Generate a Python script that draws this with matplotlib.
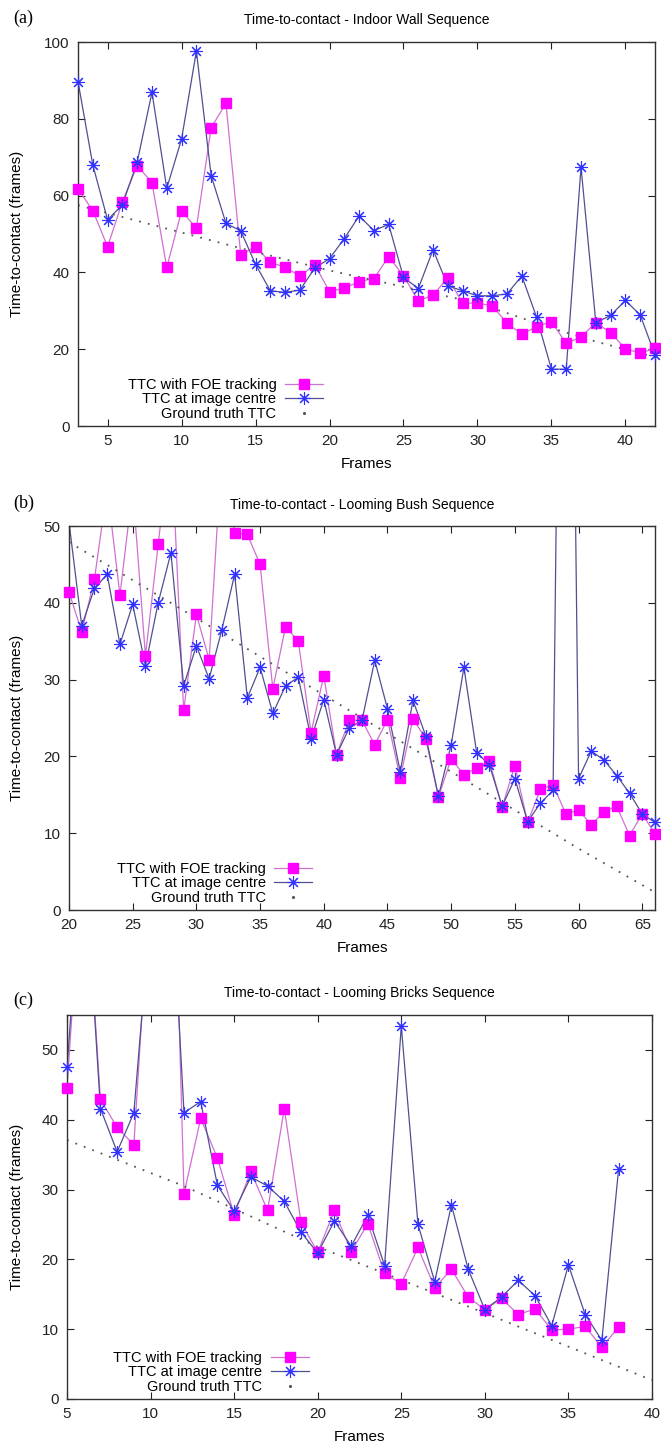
""" Time-to-contact plots for three sequences """
import matplotlib
matplotlib.use('Agg')
import matplotlib.pyplot as plt
from matplotlib.lines import Line2D
import numpy as np

plt.rcParams['font.family'] = ['Liberation Sans', 'DejaVu Sans']

# (a) Indoor wall sequence
frames_a = list(range(3, 43))
foe_a = [61.7, 56.1, 46.7, 58.4, 67.8, 63.4, 41.3, 56.0, 51.5, 77.7,
         84.0, 44.6, 46.7, 42.6, 41.4, 39.0, 42.0, 35.0, 35.9, 37.6,
         38.4, 44.1, 39.1, 32.6, 34.1, 38.6, 32.0, 32.0, 31.3, 26.8,
         23.9, 25.9, 27.2, 21.5, 23.2, 26.9, 24.3, 20.1, 19.0, 20.2]
centre_a = [89.7, 68.0, 53.7, 57.6, 68.7, 86.9, 61.9, 74.7, 97.6, 65.2,
            52.8, 50.8, 42.1, 35.2, 34.8, 35.4, 41.1, 43.6, 48.8, 54.7,
            50.9, 52.5, 38.7, 35.8, 45.9, 36.5, 35.2, 33.9, 33.9, 34.4,
            39.1, 28.3, 14.8, 14.8, 67.4, 26.9, 28.8, 32.7, 28.9, 18.5]
truth_frames_a = [3, 14, 20, 30, 35, 38, 42]
truth_a = [57.5, 46.3, 40.5, 32.0, 25.5, 22.0, 17.9]

# (b) Looming bush sequence
frames_b = list(range(20, 67))
foe_b = [41.4, 36.2, 43.1, 55.0, 41.0, 55.0, 33.1, 47.6, 62.0, 26.0,
         38.5, 32.6, 60.0, 49.1, 48.9, 45.0, 28.8, 36.9, 35.0, 23.1,
         30.5, 20.2, 24.7, 24.7, 21.5, 24.8, 17.2, 24.9, 22.3, 14.7,
         19.7, 17.6, 18.5, 19.4, 13.4, 18.8, 11.4, 15.7, 16.3, 12.5,
         13.0, 11.1, 12.8, 13.5, 9.7, 12.5, 9.9]
centre_b = [50.5, 37.0, 41.9, 43.7, 34.6, 39.8, 31.8, 40.0, 46.5, 29.2,
            34.4, 30.1, 36.5, 43.7, 27.6, 31.6, 25.6, 29.2, 30.3, 22.3,
            27.4, 20.2, 23.7, 24.7, 32.5, 26.2, 18.0, 27.3, 22.7, 14.8,
            21.5, 31.6, 20.5, 18.9, 13.5, 17.1, 11.5, 13.9, 15.6, 160.0,
            17.1, 20.7, 19.5, 17.5, 15.2, 12.5, 11.4]
truth_frames_b = [20, 30, 40, 50, 60, 66]
truth_b = [47.9, 38.0, 28.0, 18.0, 8.0, 2.3]

# (c) Looming bricks sequence
frames_c = list(range(5, 39))
foe_c = [44.6, 80.0, 42.9, 38.9, 36.4, 75.0, 115.0, 29.4, 40.2, 34.5,
         26.4, 32.6, 27.0, 41.6, 25.3, 21.0, 27.0, 21.1, 25.1, 18.0,
         16.5, 21.7, 15.9, 18.6, 14.6, 12.8, 14.4, 12.1, 12.9, 9.9,
         10.0, 10.4, 7.4, 10.3]
centre_c = [47.5, 80.0, 41.6, 35.4, 41.0, 70.0, 85.0, 41.0, 42.6, 30.6,
            26.9, 31.8, 30.5, 28.3, 23.9, 20.9, 25.5, 21.9, 26.3, 19.1,
            53.4, 25.0, 16.8, 27.8, 18.6, 12.8, 14.6, 17.0, 14.8, 10.5,
            19.2, 12.1, 8.4, 32.9]
truth_frames_c = [5, 12, 20, 30, 40]
truth_c = [37.1, 30.5, 21.8, 12.3, 2.7]

W, H = 661, 1446
fig = plt.figure(figsize=(W / 100, H / 100), dpi=100)

# 线条与标记样式
FOE_LINE = dict(color='#d070d0', lw=0.9)
FOE_MARK = dict(marker='s', ms=7, mfc='#ff00ff', mec='#ff00ff', ls='none')
CEN_LINE = dict(color='#505090', lw=0.9)
CEN_MARK = dict(marker=(8, 2, 0), ms=9, mec='#3030ff', mew=0.8, ls='none')


def px_axes(left, top, right, bottom):
    """ 按像素位置创建坐标轴 """
    return fig.add_axes([left / W, 1 - bottom / H, (right - left) / W,
                         (bottom - top) / H])


def px_text(x, y, s, **kw):
    fig.text(x / W, 1 - y / H, s, **kw)


panels = [
    dict(box=(78, 42, 655, 426), frames=frames_a, foe=foe_a, centre=centre_a,
         tf=truth_frames_a, truth=truth_a, xlim=(3, 42), ylim=(0, 100),
         xticks=range(5, 45, 5), yticks=range(0, 101, 20),
         title='Time-to-contact - Indoor Wall Sequence', tag='(a)',
         tag_y=18, title_y=20, xlabel_y=464, leg_x=0.44),
    dict(box=(69, 526, 655, 910), frames=frames_b, foe=foe_b, centre=centre_b,
         tf=truth_frames_b, truth=truth_b, xlim=(20, 66), ylim=(0, 50),
         xticks=range(20, 70, 5), yticks=range(0, 51, 10),
         title='Time-to-contact - Looming Bush Sequence', tag='(b)',
         tag_y=503, title_y=505, xlabel_y=948, leg_x=0.43),
    dict(box=(67, 1015, 652, 1399), frames=frames_c, foe=foe_c, centre=centre_c,
         tf=truth_frames_c, truth=truth_c, xlim=(5, 40), ylim=(0, 55),
         xticks=range(5, 45, 5), yticks=range(0, 51, 10),
         title='Time-to-contact - Looming Bricks Sequence', tag='(c)',
         tag_y=1000, title_y=993, xlabel_y=1437, leg_x=0.428),
]

for p in panels:
    left, top, right, bottom = p['box']
    ax = px_axes(left, top, right, bottom)
    ymax = p['ylim'][1]

    # 线条裁剪在坐标轴内，标记在边缘处完整显示（同 gnuplot）
    ax.plot(p['frames'], p['foe'], **FOE_LINE)
    ax.plot(p['frames'], np.ma.masked_greater(p['foe'], ymax), clip_on=False,
            zorder=3, **FOE_MARK)
    ax.plot(p['frames'], p['centre'], **CEN_LINE)
    ax.plot(p['frames'], np.ma.masked_greater(p['centre'], ymax),
            clip_on=False, zorder=3, **CEN_MARK)
    ax.plot(p['tf'], p['truth'], color='#555555', lw=1.3, ls=(0, (1, 4)))

    ax.set_xlim(*p['xlim'])
    ax.set_ylim(*p['ylim'])
    ax.set_xticks(list(p['xticks']))
    ax.set_yticks(list(p['yticks']))
    ax.tick_params(direction='in', top=True, right=True, length=5,
                   labelsize=11, pad=6, colors='#222222')
    for s in ax.spines.values():
        s.set_color('#333333')
        s.set_linewidth(1.0)

    handles = [
        Line2D([], [], **FOE_LINE, marker='s', ms=7, mfc='#ff00ff',
               mec='#ff00ff'),
        Line2D([], [], **CEN_LINE, marker=(8, 2, 0), ms=9, mec='#3030ff',
               mew=0.8),
        Line2D([], [], ls='none', marker='.', ms=2.5, color='#555555'),
    ]
    labels = ['TTC with FOE tracking', 'TTC at image centre',
              'Ground truth TTC']
    leg = ax.legend(handles, labels, loc='lower right',
                    bbox_to_anchor=(p['leg_x'], -0.01),
                    markerfirst=False, frameon=False, fontsize=10.5,
                    handlelength=2.6, labelspacing=0.05, borderaxespad=0.2,
                    numpoints=1, handletextpad=0.6)
    for t in leg.get_texts():
        t.set_ha('right')

    cx = (left + right) / 2
    px_text(cx, p['title_y'], p['title'], ha='center', va='center',
            fontsize=10)
    px_text(13, p['tag_y'], p['tag'], ha='left', va='center', fontsize=13,
            family='Liberation Serif')
    px_text(cx, p['xlabel_y'], 'Frames', ha='center', va='center',
            fontsize=11)
    px_text(17, (top + bottom) / 2, 'Time-to-contact (frames)', ha='center',
            va='center', rotation=90, fontsize=11)

plt.savefig('out.png', dpi=100)
